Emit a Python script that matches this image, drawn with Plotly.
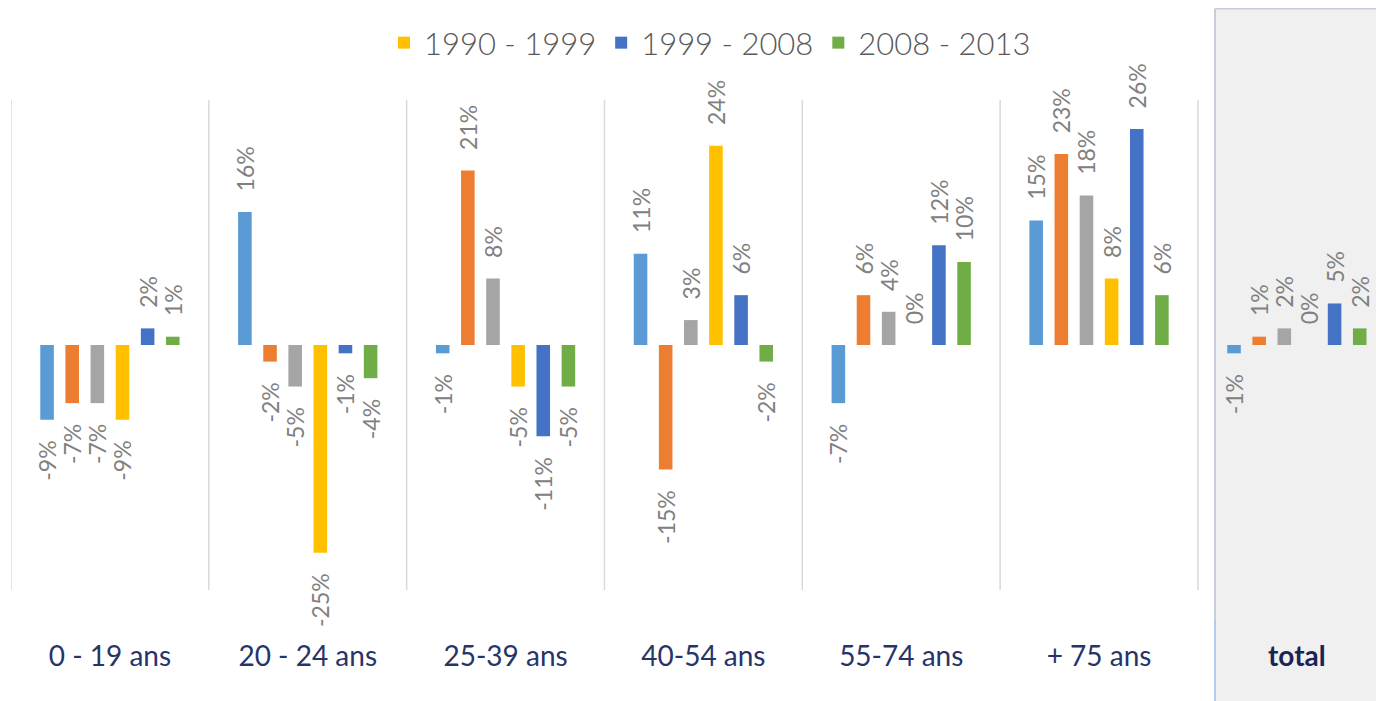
import plotly.graph_objects as go

# Age groups (x categories) and census periods (one bar series each)
groups = ["0 - 19 ans", "20 - 24 ans", "25-39 ans", "40-54 ans", "55-74 ans", "+ 75 ans", "total"]
periods = ["1968 - 1975", "1975 - 1982", "1982 - 1990", "1990 - 1999", "1999 - 2008", "2008 - 2013"]
colors = ["#5b9bd5", "#ed7d31", "#a5a5a5", "#ffc000", "#4472c4", "#70ad47"]

# Change over each period, in %, per age group
p1968 = [-9, 16, -1, 11, -7, 15, -1]
p1975 = [-7, -2, 21, -15, 6, 23, 1]
p1982 = [-7, -5, 8, 3, 4, 18, 2]
p1990 = [-9, -25, -5, 24, 0, 8, 0]
p1999 = [2, -1, -11, 6, 12, 26, 5]
p2008 = [1, -4, -5, -2, 10, 6, 2]
series = [p1968, p1975, p1982, p1990, p1999, p2008]

# only the last three periods appear in the visible legend row
in_legend = [False, False, False, True, True, True]

NAVY = "#27346a"
LABEL_GREY = "#808080"
PAD = "\u00a0" * 3


def label(v):
    # rotated labels read bottom-to-top; pad the end that faces the bar
    return f"{PAD}{v}%" if v >= 0 else f"{v}%{PAD}"


fig = go.Figure()
for name, vals, col, leg in zip(periods, series, colors, in_legend):
    fig.add_trace(go.Bar(
        x=groups, y=vals, name=name, marker_color=col, marker_line_width=0,
        text=[label(v) for v in vals], textposition="outside", textangle=-90,
        textfont=dict(family="Lato", size=23, color=LABEL_GREY),
        constraintext="none", cliponaxis=False, showlegend=leg,
        hovertemplate="%{x}<br>" + name + ": %{y}%<extra></extra>",
    ))

shapes = []
# shaded "total" panel at the right
shapes.append(dict(type="rect", xref="x", yref="paper", x0=5.586, x1=6.45,
                   y0=-0.23, y1=1.186, fillcolor="#f0f0f0", line_width=0, layer="below"))
shapes.append(dict(type="line", xref="x", yref="paper", x0=5.586, x1=6.45,
                   y0=1.186, y1=1.186, line=dict(color="#c5ccd8", width=1.5), layer="below"))
shapes.append(dict(type="line", xref="x", yref="paper", x0=5.586, x1=5.586,
                   y0=-0.06, y1=1.186, line=dict(color="#b9c0cc", width=1.5), layer="below"))
shapes.append(dict(type="line", xref="x", yref="paper", x0=5.586, x1=5.586,
                   y0=-0.23, y1=-0.06, line=dict(color="#6f9fe0", width=1), layer="below"))
# light separators between age groups
for i in range(len(groups)):
    shapes.append(dict(type="line", xref="x", yref="paper", x0=i - 0.5, x1=i - 0.5,
                       y0=0, y1=1, line=dict(color="#d9d9d9", width=1.5), layer="below"))

ticktext = [f"<span style='color:{NAVY}'>{g}</span>" for g in groups[:-1]]
ticktext.append("<b><span style='color:#1b2452'>total</span></b>")

fig.update_layout(
    width=1376, height=701,
    margin=dict(l=11, r=0, t=100, b=111),
    paper_bgcolor="white", plot_bgcolor="rgba(0,0,0,0)",
    barmode="group", bargap=0.2375, bargroupgap=0.46,
    shapes=shapes,
    showlegend=True,
    legend=dict(orientation="h", xref="container", yref="container",
                x=0.516, xanchor="center", y=1 - 43 / 701, yanchor="middle",
                font=dict(family="Lato", size=31, color="#595959", weight=300),
                bgcolor="rgba(0,0,0,0)", tracegroupgap=0, itemwidth=30),
    xaxis=dict(type="category", range=[-0.5, 6.40], tickmode="array",
               tickvals=groups, ticktext=ticktext, ticks="outside", ticklen=41,
               tickcolor="rgba(0,0,0,0)", showgrid=False, showline=False,
               zeroline=False, tickfont=dict(family="Lato", size=28, color=NAVY),
               fixedrange=True),
    yaxis=dict(range=[-29.5, 29.5], visible=False, showgrid=False,
               zeroline=False, fixedrange=True),
)

fig.write_html("out.html")
